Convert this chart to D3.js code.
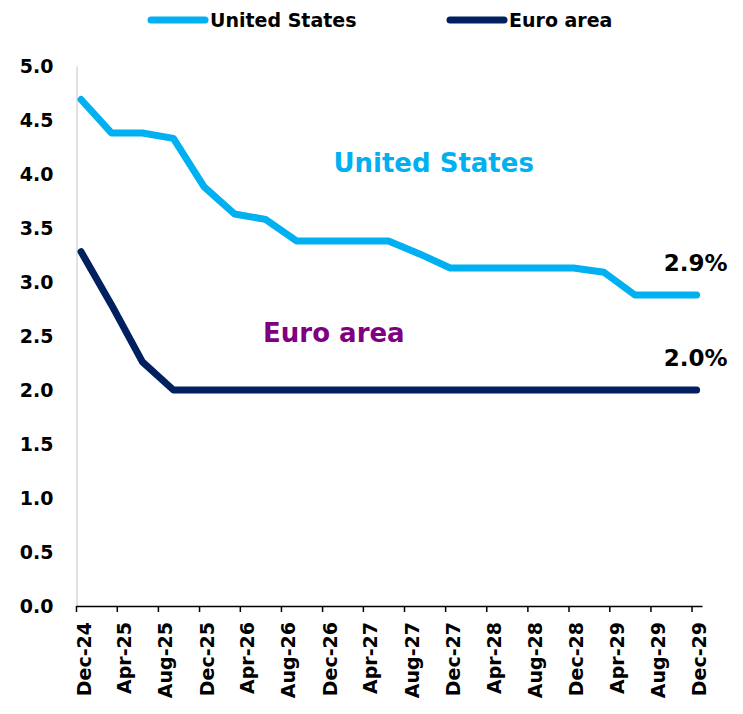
<!DOCTYPE html>
<html>
<head>
<meta charset="utf-8">
<script src="https://cdn.jsdelivr.net/npm/d3@7"></script>
<style>
  body { margin: 0; background: #fff; }
  text { font-family: "DejaVu Sans", sans-serif; font-weight: bold; }
</style>
</head>
<body>
<div id="chart"></div>
<script>
// Quarterly observations (mid-month of quarter end)
const dates = ["2024-12-16","2025-03-16","2025-06-16","2025-09-16","2025-12-16",
  "2026-03-16","2026-06-16","2026-09-16","2026-12-16","2027-03-16","2027-06-16",
  "2027-09-16","2027-12-16","2028-03-16","2028-06-16","2028-09-16","2028-12-16",
  "2029-03-16","2029-06-16","2029-09-16","2029-12-16"];
const usValues = [4.69, 4.38, 4.38, 4.33, 3.88, 3.63, 3.58, 3.38, 3.38, 3.38, 3.38,
  3.26, 3.13, 3.13, 3.13, 3.13, 3.13, 3.09, 2.88, 2.88, 2.88];
const euroValues = [3.28, 2.79, 2.26, 2.00, 2.00, 2.00, 2.00, 2.00, 2.00, 2.00, 2.00,
  2.00, 2.00, 2.00, 2.00, 2.00, 2.00, 2.00, 2.00, 2.00, 2.00];
const tickDates = ["2024-12-01","2025-04-01","2025-08-01","2025-12-01","2026-04-01",
  "2026-08-01","2026-12-01","2027-04-01","2027-08-01","2027-12-01","2028-04-01",
  "2028-08-01","2028-12-01","2029-04-01","2029-08-01","2029-12-01"];
const tickLabels = ["Dec-24","Apr-25","Aug-25","Dec-25","Apr-26","Aug-26","Dec-26",
  "Apr-27","Aug-27","Dec-27","Apr-28","Aug-28","Dec-28","Apr-29","Aug-29","Dec-29"];
const yTicks = [0, 0.5, 1, 1.5, 2, 2.5, 3, 3.5, 4, 4.5, 5];

const W = 743, H = 714;
const parse = d3.timeParse("%Y-%m-%d");

const svg = d3.select("#chart").append("svg")
    .attr("width", W)
    .attr("height", H);

const x = d3.scaleTime()
    .domain([parse("2024-12-01"), parse("2030-01-01")])
    .range([76, 702]);
const y = d3.scaleLinear()
    .domain([0, 5])
    .range([606, 66]);

const series = [
  {name: "United States", color: "#00B0F0", values: usValues},
  {name: "Euro area", color: "#002060", values: euroValues}
];

// Y axis: light grey line, labels only
const yAxis = svg.append("g")
    .attr("transform", "translate(76.5,0)")
    .call(d3.axisLeft(y).tickValues(yTicks).tickSize(0).tickPadding(23)
      .tickFormat(d3.format(".1f")));
yAxis.select(".domain").attr("stroke", "#d9d9d9").attr("stroke-width", 1.5);
yAxis.selectAll("text")
    .style("font-size", "19px")
    .attr("fill", "#000");

// X axis
const tickMap = new Map(tickDates.map((d, i) => [+parse(d), tickLabels[i]]));
const xAxis = svg.append("g")
    .attr("transform", `translate(0,${y(0)})`)
    .call(d3.axisBottom(x)
      .tickValues(tickDates.map(parse))
      .tickSize(6)
      .tickSizeOuter(0)
      .tickFormat(d => tickMap.get(+d)));
xAxis.select(".domain").attr("stroke", "#000").attr("stroke-width", 1.5);
xAxis.selectAll(".tick line").attr("stroke", "#000").attr("stroke-width", 1.5);
xAxis.selectAll("text")
    .style("font-size", "19px")
    .attr("fill", "#000")
    .attr("text-anchor", "end")
    .attr("transform", "rotate(-90)")
    .attr("x", -16)
    .attr("y", 14)
    .attr("dy", null);

// Lines
const line = d3.line()
    .x((d, i) => x(parse(dates[i])))
    .y(d => y(d));

svg.selectAll(".series")
  .data(series)
  .enter()
  .append("path")
    .attr("class", "series")
    .attr("d", d => line(d.values))
    .attr("fill", "none")
    .attr("stroke", d => d.color)
    .attr("stroke-width", 7)
    .attr("stroke-linecap", "round")
    .attr("stroke-linejoin", "round");

// Legend
const legend = svg.append("g");
const legendX = [151, 450];
series.forEach((s, i) => {
  legend.append("line")
      .attr("x1", legendX[i]).attr("x2", legendX[i] + 54)
      .attr("y1", 20).attr("y2", 20)
      .attr("stroke", s.color)
      .attr("stroke-width", 7)
      .attr("stroke-linecap", "round");
  legend.append("text")
      .attr("x", legendX[i] + 59)
      .attr("y", 27)
      .style("font-size", "19px")
      .attr("fill", "#000")
      .text(s.name);
});

// In-plot series labels
const seriesLabels = [
  {text: "United States", date: "2027-10-28", value: 4.02, color: "#00B0F0", size: 26},
  {text: "Euro area", date: "2027-01-05", value: 2.44, color: "#7F0080", size: 26}
];
svg.selectAll(".series-label")
  .data(seriesLabels)
  .enter()
  .append("text")
    .attr("class", "series-label")
    .attr("x", d => x(parse(d.date)))
    .attr("y", d => y(d.value))
    .attr("text-anchor", "middle")
    .attr("fill", d => d.color)
    .style("font-size", d => d.size + "px")
    .text(d => d.text);

// End value labels
const endLabels = [
  {text: "2.9%", value: usValues[usValues.length - 1]},
  {text: "2.0%", value: euroValues[euroValues.length - 1]}
];
svg.selectAll(".end-label")
  .data(endLabels)
  .enter()
  .append("text")
    .attr("class", "end-label")
    .attr("x", x(parse(dates[dates.length - 1])) + 31)
    .attr("y", d => y(d.value) - 24)
    .attr("text-anchor", "end")
    .attr("fill", "#000")
    .style("font-size", "23px")
    .text(d => d.text);
</script>
</body>
</html>
